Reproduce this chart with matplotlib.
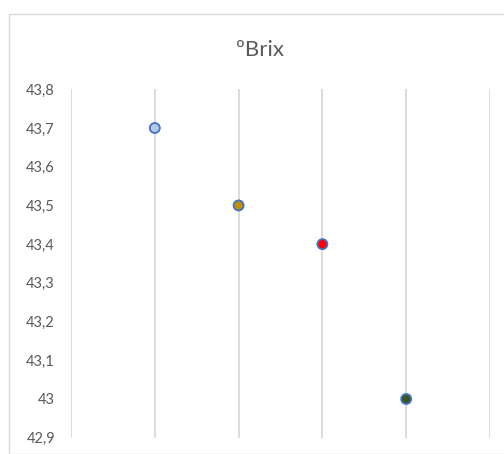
import matplotlib
matplotlib.use("Agg")
import matplotlib.pyplot as plt
from matplotlib.patches import Rectangle
from matplotlib.ticker import FixedLocator, FuncFormatter

plt.rcParams['font.family'] = ['Lato', 'DejaVu Sans']

# Data
samples = [1, 2, 3, 4]
brix = [43.7, 43.5, 43.4, 43.0]
face_colors = ["#B4C7E7", "#BF9000", "#FF0000", "#375623"]
y_ticks = [42.9, 43.0, 43.1, 43.2, 43.3, 43.4, 43.5, 43.6, 43.7, 43.8]
x_grid = [0, 1, 2, 3, 4, 5]

W, H = 504, 454
fig = plt.figure(figsize=(W / 100, H / 100), dpi=100)

# Chart frame
fig.patches.append(Rectangle((8.5 / W, 0), 2, 1 - 13.5 / H, transform=fig.transFigure,
                             fill=False, edgecolor="#D9D9D9", linewidth=1.0))

ax = fig.add_axes([71 / W, 16.3 / H, (490 - 71) / W, (437.7 - 89.3) / H])
ax.set_xlim(0, 5)
ax.set_ylim(42.9, 43.8)

for s in ax.spines.values():
    s.set_visible(False)

ax.xaxis.set_major_locator(FixedLocator(x_grid))
ax.set_xticklabels([])
ax.tick_params(axis='x', length=0)
ax.grid(axis='x', color="#D9D9D9", linewidth=1.3)
ax.set_axisbelow(True)

ax.yaxis.set_major_locator(FixedLocator(y_ticks))
ax.yaxis.set_major_formatter(FuncFormatter(
    lambda v, p: (f"{v:.1f}".rstrip('0').rstrip('.')).replace('.', ',')))
ax.tick_params(axis='y', length=0, pad=11.5, labelsize=10.5, labelcolor="#595959")

ax.scatter(samples, brix, s=52, c=face_colors, edgecolors="#4472C4",
           linewidths=1.3, zorder=3, clip_on=False)

fig.text(260 / W, 1 - 50 / H, "ºBrix", ha="center", va="center",
         fontsize=16, color="#595959")

fig.savefig("out.png", dpi=100)
